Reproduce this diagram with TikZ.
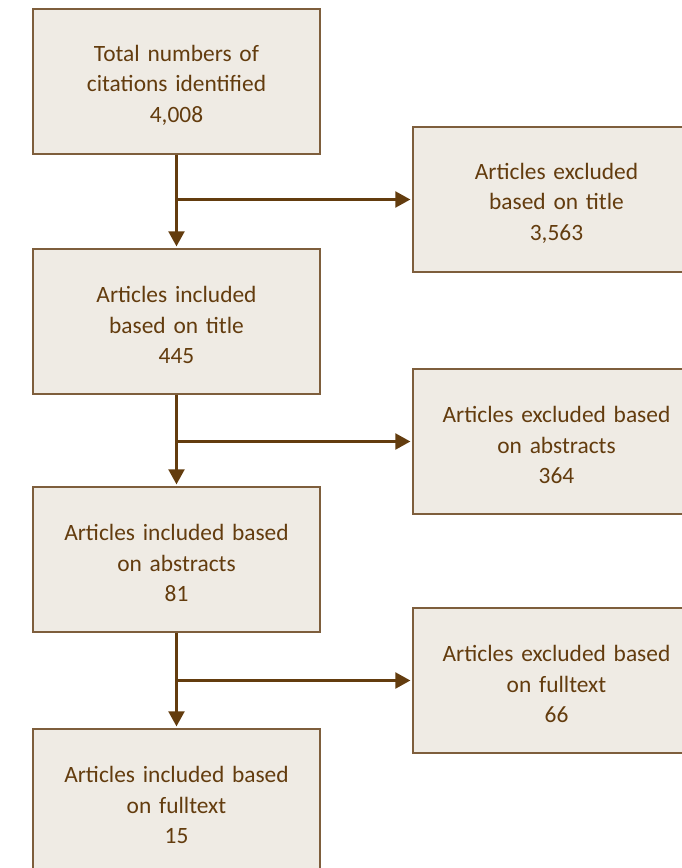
\documentclass[tikz,border=0pt]{standalone}
\usepackage{fontspec}
\setmainfont{Carlito}
\usetikzlibrary{arrows.meta}
\definecolor{txtbrown}{HTML}{633C0E}
\definecolor{linebrown}{HTML}{633C0E}
\definecolor{boxedge}{HTML}{7E5E3C}
\definecolor{boxfill}{HTML}{EFEBE4}
\begin{document}
\begin{tikzpicture}[x=1pt,y=-1pt,
  stagebox/.style={draw=boxedge, fill=boxfill, line width=1.3pt,
    minimum width=287pt, minimum height=145pt, inner sep=0pt,
    text=txtbrown, align=center, text width=280pt,
    font=\fontsize{23.4}{30.5}\selectfont,
    execute at begin node={\rule{0pt}{23.5pt}}},
  flowarrow/.style={draw=linebrown, line width=2.2pt,
    -{Triangle[length=15pt,width=16pt]}, shorten >=2pt}
]
\useasboundingbox (0,0) rectangle (682,868);
\clip (0,0) rectangle (682,868);
\node[stagebox] (b1) at (176.5,81.5) {Total numbers of\\citations identified\\4,008};
\node[stagebox] (b2) at (176.5,321.5) {Articles included\\based on title\\445};
\node[stagebox] (b3) at (176.5,559.5) {Articles included based\\on abstracts\\81};
\node[stagebox] (b4) at (176.5,801.5) {Articles included based\\on fulltext\\15};
\node[stagebox] (r1) at (556.5,199.5) {Articles excluded\\based on title\\3,563};
\node[stagebox] (r2) at (556.5,441.5) {Articles excluded based\\on abstracts\\364};
\node[stagebox] (r3) at (556.5,680.5) {Articles excluded based\\on fulltext\\66};
\coordinate (j1) at (b1.south |- r1.west);
\coordinate (j2) at (b2.south |- r2.west);
\coordinate (j3) at (b3.south |- r3.west);
\draw[flowarrow] (b1.south) -- (b2.north);
\draw[flowarrow] (b2.south) -- (b3.north);
\draw[flowarrow] (b3.south) -- (b4.north);
\draw[flowarrow] (j1) -- (r1.west);
\draw[flowarrow] (j2) -- (r2.west);
\draw[flowarrow] (j3) -- (r3.west);
\end{tikzpicture}
\end{document}
